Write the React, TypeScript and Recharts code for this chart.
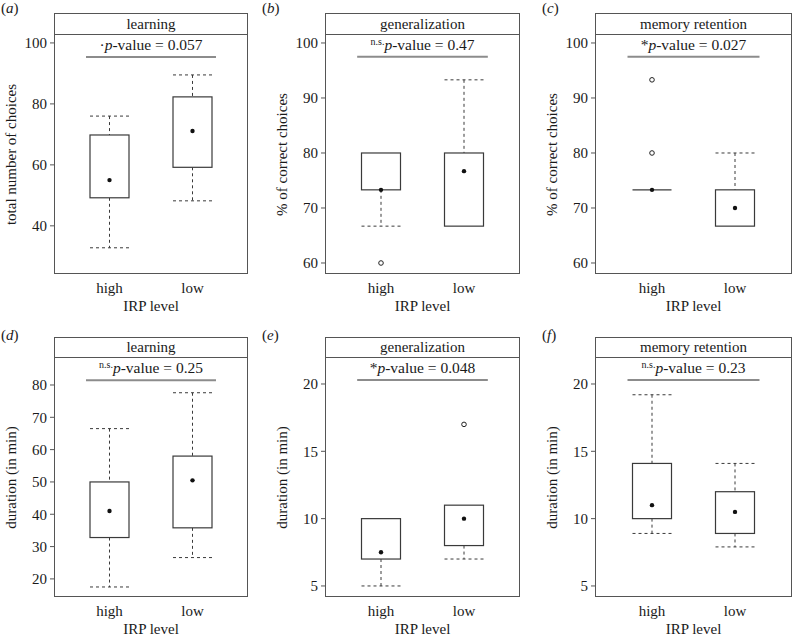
import React from 'react';
import { ComposedChart, Bar, Scatter, XAxis, YAxis, ReferenceLine } from 'recharts';

const FONT = 'Liberation Serif, DejaVu Serif, serif';
const INK = '#1a1a1a';
const BOX = '#3a3a3a';
const FRAME = '#555';

const groups = ['high', 'low'];

// (a) learning - total number of choices
const aLow = [32.8, 48.2];
const aQ1 = [49.2, 59.2];
const aQ3 = [69.8, 82.3];
const aHigh = [76, 89.5];
const aDot = [55, 71.1];
const aOut: number[][] = [[], []];

// (b) generalization - % of correct choices
const bLow = [66.7, 66.7];
const bQ1 = [73.3, 66.7];
const bQ3 = [80, 80];
const bHigh = [80, 93.3];
const bDot = [73.3, 76.7];
const bOut: number[][] = [[60], []];

// (c) memory retention - % of correct choices
const cLow = [73.3, 66.7];
const cQ1 = [73.3, 66.7];
const cQ3 = [73.3, 73.3];
const cHigh = [73.3, 80];
const cDot = [73.3, 70];
const cOut: number[][] = [[93.3, 80], []];

// (d) learning - duration
const dLow = [17.5, 26.6];
const dQ1 = [32.8, 35.8];
const dQ3 = [50, 58];
const dHigh = [66.5, 77.6];
const dDot = [41, 50.5];
const dOut: number[][] = [[], []];

// (e) generalization - duration
const eLow = [5, 7];
const eQ1 = [7, 8];
const eQ3 = [10, 11];
const eHigh = [10, 11];
const eDot = [7.5, 10];
const eOut: number[][] = [[], [17]];

// (f) memory retention - duration
const fLow = [8.9, 7.9];
const fQ1 = [10, 8.9];
const fQ3 = [14.1, 12];
const fHigh = [19.2, 14.1];
const fDot = [11, 10.5];
const fOut: number[][] = [[], []];

const titles = ['learning', 'generalization', 'memory retention'];
const sigMarks = ['·', 'n.s.', '*', 'n.s.', '*', 'n.s.'];
const pValues = ['0.057', '0.47', '0.027', '0.25', '0.048', '0.23'];
const sigLevels = [95.4, 97.5, 97.5, 81.5, 20.3, 20.3];

function buildRows(lo: number[], q1: number[], q3: number[], hi: number[], mid: number[], out: number[][]) {
  return groups.map((name, i) => ({
    name,
    lo: lo[i],
    q1: q1[i],
    q3: q3[i],
    hi: hi[i],
    mid: mid[i],
    o1: out[i][0] ?? null,
    o2: out[i][1] ?? null,
  }));
}

const cols = [
  { left: 54, right: 248 },
  { left: 325, right: 520 },
  { left: 595, right: 792 },
];
const rowsY = [
  { strip: 13, top: 35, bottom: 274, letter: 0 },
  { strip: 337, top: 358, bottom: 597, letter: 327 },
];

const panels = [
  { id: 'a', data: buildRows(aLow, aQ1, aQ3, aHigh, aDot, aOut), domain: [24.2, 102.6], ticks: [40, 60, 80, 100], ylabel: 'total number of choices' },
  { id: 'b', data: buildRows(bLow, bQ1, bQ3, bHigh, bDot, bOut), domain: [58.0, 101.45], ticks: [60, 70, 80, 90, 100], ylabel: '% of correct choices' },
  { id: 'c', data: buildRows(cLow, cQ1, cQ3, cHigh, cDot, cOut), domain: [58.0, 101.45], ticks: [60, 70, 80, 90, 100], ylabel: '% of correct choices' },
  { id: 'd', data: buildRows(dLow, dQ1, dQ3, dHigh, dDot, dOut), domain: [14.4, 88.35], ticks: [20, 30, 40, 50, 60, 70, 80], ylabel: 'duration (in min)' },
  { id: 'e', data: buildRows(eLow, eQ1, eQ3, eHigh, eDot, eOut), domain: [4.18, 21.93], ticks: [5, 10, 15, 20], ylabel: 'duration (in min)' },
  { id: 'f', data: buildRows(fLow, fQ1, fQ3, fHigh, fDot, fOut), domain: [4.18, 21.93], ticks: [5, 10, 15, 20], ylabel: 'duration (in min)' },
];

function BoxShape(props: any) {
  const { x, y, width, height, payload } = props;
  const top = Math.min(y, y + height);
  const bottom = Math.max(y, y + height);
  const span = payload.hi - payload.lo;
  const py = (v: number) => (span === 0 ? top : bottom - ((v - payload.lo) / span) * (bottom - top));
  const cx = x + width / 2;
  const y1 = py(payload.q1);
  const y3 = py(payload.q3);
  const dash = { stroke: BOX, strokeWidth: 1, strokeDasharray: '3 3', fill: 'none' };
  return (
    <g>
      {payload.hi > payload.q3 && (
        <>
          <line x1={cx} x2={cx} y1={top} y2={y3} {...dash} />
          <line x1={x} x2={x + width} y1={top} y2={top} {...dash} />
        </>
      )}
      {payload.lo < payload.q1 && (
        <>
          <line x1={cx} x2={cx} y1={y1} y2={bottom} {...dash} />
          <line x1={x} x2={x + width} y1={bottom} y2={bottom} {...dash} />
        </>
      )}
      {y1 - y3 > 0.5 ? (
        <rect x={x} y={y3} width={width} height={y1 - y3} fill="#fff" stroke={BOX} strokeWidth={1.2} />
      ) : (
        <line x1={x} x2={x + width} y1={y3} y2={y3} stroke={BOX} strokeWidth={1.2} />
      )}
    </g>
  );
}

const dotShape = (p: any) => <circle cx={p.cx} cy={p.cy} r={2.2} fill="#111" />;
const outShape = (key: string) => (p: any) =>
  p.payload[key] == null ? <g /> : <circle cx={p.cx} cy={p.cy} r={2.3} fill="#fff" stroke="#222" strokeWidth={1} />;

function sigShape(mark: string, pval: string) {
  return (p: any) => {
    const xa = Math.min(p.x1, p.x2);
    const xb = Math.max(p.x1, p.x2);
    const inset = (xb - xa) * 0.165;
    const ns = mark === 'n.s.';
    return (
      <g>
        <line x1={xa + inset} x2={xb - inset} y1={p.y1} y2={p.y1} stroke="#8c8c8c" strokeWidth={2} />
        <text x={(xa + xb) / 2} y={p.y1 - 7} textAnchor="middle" fontFamily={FONT} fontSize={15.5} fill={INK}>
          {ns ? <tspan fontSize={10} dy={-5}>n.s.</tspan> : <tspan>{mark}</tspan>}
          <tspan fontStyle="italic" dy={ns ? 5 : 0}>p</tspan>
          <tspan>-value = {pval}</tspan>
        </text>
      </g>
    );
  };
}

function Panel({ index }: { index: number }) {
  const panel = panels[index];
  const col = cols[index % 3];
  const row = rowsY[Math.floor(index / 3)];
  const plotW = col.right - col.left;
  const plotH = row.bottom - row.top;
  const padX = (plotW - 166) / 2;
  const width = plotW + 56;
  const height = plotH + 60;
  const tick = { fill: INK, fontSize: 15, fontFamily: FONT };
  return (
    <>
      <div style={{ position: 'absolute', left: col.left - 54, top: row.top - 20 }}>
        <ComposedChart width={width} height={height} data={panel.data} margin={{ top: 20, right: 2, left: 0, bottom: 0 }} barSize={39}>
          <XAxis
            dataKey="name"
            tickLine={false}
            axisLine={false}
            padding={{ left: padX, right: padX }}
            height={40}
            interval={0}
            tick={tick}
            label={{ value: 'IRP level', position: 'insideBottom', offset: 3, fill: INK, fontSize: 15, fontFamily: FONT }}
          />
          <YAxis
            type="number"
            domain={panel.domain}
            ticks={panel.ticks}
            allowDataOverflow
            axisLine={false}
            tickLine={{ stroke: FRAME }}
            tickSize={4}
            tickMargin={3}
            width={54}
            tick={tick}
            label={{
              content: (lp: any) => {
                const vb = lp.viewBox;
                const cx = 11;
                const cy = vb.y + vb.height / 2;
                return (
                  <text x={cx} y={cy} transform={`rotate(-90 ${cx} ${cy})`} textAnchor="middle" dominantBaseline="central" fontFamily={FONT} fontSize={15} fill={INK}>
                    {panel.ylabel}
                  </text>
                );
              },
            }}
          />
          <Bar dataKey={(d: any) => [d.lo, d.hi]} shape={BoxShape} isAnimationActive={false} />
          <Scatter dataKey="mid" shape={dotShape} isAnimationActive={false} />
          <Scatter dataKey="o1" shape={outShape('o1')} isAnimationActive={false} />
          <Scatter dataKey="o2" shape={outShape('o2')} isAnimationActive={false} />
          <ReferenceLine y={sigLevels[index]} shape={sigShape(sigMarks[index], pValues[index])} />
        </ComposedChart>
      </div>
      <div
        style={{
          position: 'absolute',
          left: col.left,
          top: row.strip,
          width: plotW,
          height: row.bottom - row.strip,
          border: `1px solid ${FRAME}`,
          boxSizing: 'border-box',
          pointerEvents: 'none',
        }}
      >
        <div
          style={{
            height: row.top - row.strip - 1,
            borderBottom: `1px solid ${FRAME}`,
            boxSizing: 'border-box',
            textAlign: 'center',
            fontFamily: FONT,
            fontSize: 15,
            lineHeight: `${row.top - row.strip - 2}px`,
            color: INK,
          }}
        >
          {titles[index % 3]}
        </div>
      </div>
      <div
        style={{
          position: 'absolute',
          left: [1, 262, 542][index % 3],
          top: row.letter,
          fontFamily: FONT,
          fontSize: 15,
          color: INK,
          lineHeight: '17px',
        }}
      >
        (<i>{panel.id}</i>)
      </div>
    </>
  );
}

export default function App() {
  return (
    <div style={{ position: 'absolute', left: 0, top: 0, width: 794, height: 639, background: '#fff' }}>
      {panels.map((_, i) => (
        <Panel key={i} index={i} />
      ))}
    </div>
  );
}
